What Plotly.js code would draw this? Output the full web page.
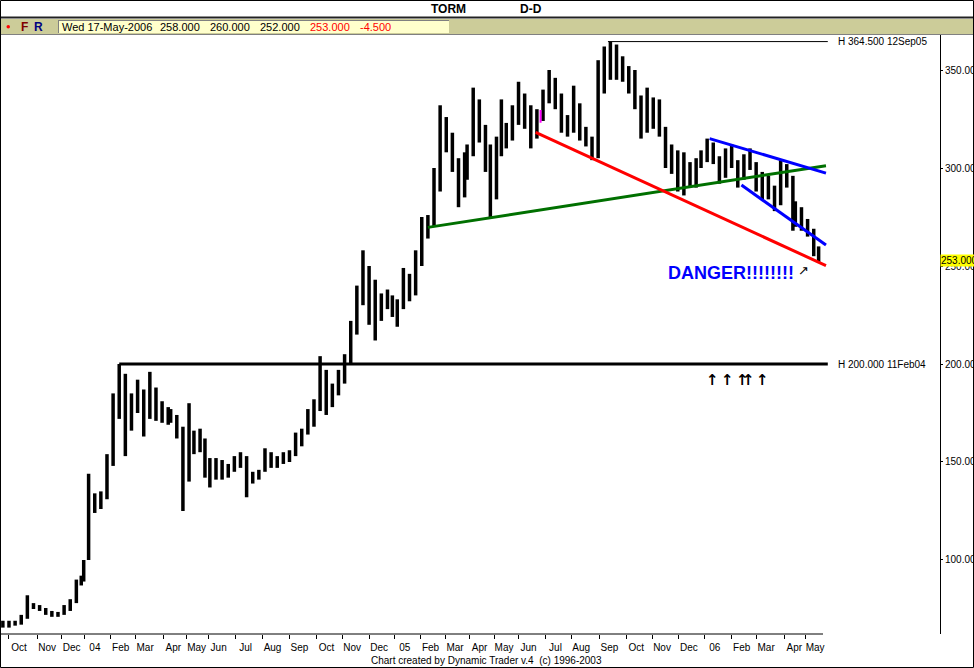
<!DOCTYPE html>
<html><head><meta charset="utf-8">
<script src="https://cdn.plot.ly/plotly-3.0.1.min.js"></script>
<style>html,body{margin:0;padding:0;background:#fff;overflow:hidden}#chart{width:974px;height:668px}</style>
</head><body><div id="chart"></div>
<script>
// ---- weekly OHLC bars (TORM, daily chart condensed to weeks) ----
const dates = [
 '2003-09-24',
 '2003-10-01','2003-10-08','2003-10-15','2003-10-22','2003-10-29',
 '2003-11-05','2003-11-12','2003-11-19','2003-11-26',
 '2003-12-03','2003-12-10','2003-12-17','2003-12-23','2003-12-30',
 '2004-01-07','2004-01-14','2004-01-21','2004-01-28',
 '2004-02-04','2004-02-11','2004-02-18','2004-02-25',
 '2004-03-03','2004-03-10','2004-03-17','2004-03-24','2004-03-31',
 '2004-04-07','2004-04-14','2004-04-21','2004-04-28',
 '2004-05-05','2004-05-12','2004-05-19','2004-05-26',
 '2004-06-02','2004-06-09','2004-06-16','2004-06-23','2004-06-30',
 '2004-07-07','2004-07-14','2004-07-21','2004-07-28',
 '2004-08-04','2004-08-11','2004-08-18','2004-08-25',
 '2004-09-01','2004-09-08','2004-09-15','2004-09-22','2004-09-29',
 '2004-10-06','2004-10-13','2004-10-20','2004-10-27',
 '2004-11-03','2004-11-10','2004-11-17','2004-11-24',
 '2004-12-01','2004-12-08','2004-12-15','2004-12-22','2004-12-29',
 '2005-01-05','2005-01-12','2005-01-19','2005-01-26',
 '2005-02-02','2005-02-09','2005-02-16','2005-02-23',
 '2005-03-02','2005-03-09','2005-03-16','2005-03-23','2005-03-30',
 '2005-04-06','2005-04-13','2005-04-20','2005-04-27',
 '2005-05-04','2005-05-11','2005-05-18','2005-05-25',
 '2005-06-01','2005-06-08','2005-06-15','2005-06-22','2005-06-29',
 '2005-07-06','2005-07-13','2005-07-20','2005-07-27',
 '2005-08-03','2005-08-10','2005-08-17','2005-08-24','2005-08-31',
 '2005-09-07','2005-09-14','2005-09-21','2005-09-28',
 '2005-10-05','2005-10-12','2005-10-19','2005-10-26',
 '2005-11-02','2005-11-09','2005-11-16','2005-11-23','2005-11-30',
 '2005-12-07','2005-12-14','2005-12-21','2005-12-28',
 '2006-01-04','2006-01-11','2006-01-18','2006-01-25',
 '2006-02-01','2006-02-08','2006-02-15','2006-02-22',
 '2006-03-01','2006-03-08','2006-03-15','2006-03-22','2006-03-29',
 '2006-04-05','2006-04-12','2006-04-19','2006-04-26',
 '2006-05-03','2006-05-10','2006-05-17'
];
const opens = [
 67,
 67,68,68,71,77,
 76,75,73,72,
 72.5,76,79,89,90,
 101,128,128,133,
 150,180,185,172,
 178,185,175,186,178,
 175,174,172,165,
 145,160,160,158,
 148,142,150,145,146,
 150,152,140,142,
 145,152,150,151,
 153,155,160,165,174,
 178,195,180,186,
 192,202,218,235,
 245,228,230,233,232,
 228,230,240,236,
 252,268,272,290,
 318,315,302,288,300,
 308,330,318,302,
 285,310,318,315,
 328,335,325,318,326,
 335,345,336,322,
 320,330,318,314,308,
 345,355,352,356,
 350,342,334,325,
 330,328,320,305,303,
 295,300,293,302,
 306,310,305,296,
 306,303,294,303,
 302,292,290,287,283,
 300,295,275,278,
 272,268,258
];
const highs = [
 69,
 69,69,72,82,78,
 77,75.5,74,73.5,
 77,80,90,92,100,
 144,134,135,154,
 185,200,195,185,
 192,187,196,188,181,
 178,177,174,168,
 180,166,167,162,
 152,152,151,149,153,
 155,153,145,146,
 157,155,153,155,
 156,165,167,177,182,
 204,197,190,197,
 205,222,240,258,
 250,243,236,238,235,
 233,249,246,258,
 275,276,300,332,
 326,318,305,308,312,
 341,335,322,312,
 316,335,323,332,
 344,338,332,330,340,
 350,346,338,327,
 342,333,321,316,355,
 362,364.5,363,357,
 352,350,337,341,
 336,335,321,312,309,
 308,303,305,309,
 315,313,306,310,
 312,304,307,310,
 303,298,296,291,304,
 302,296,283,280,
 274,269,260
];
const lows = [
 65.5,
 65.5,66.5,67,70,75,
 74,72,71,71,
 72,74,78,87,89,
 100,124,126,131,
 148,172,153,166,
 175,163,172,171,170,
 169,170,162,125,
 140,154,155,142,
 137,141,141,142,145,
 147,132,139,141,
 145,147,147,149,
 150,153,158,164,168,
 176,174,178,184,
 190,200,215,230,
 220,212,222,228,224,
 219,228,232,235,
 250,264,270,288,
 308,298,280,285,294,
 306,313,298,275,
 284,306,310,314,
 322,320,310,315,324,
 333,330,318,316,
 318,314,311,304,305,
 338,345,345,344,
 338,330,315,318,
 320,316,300,297,288,
 286,290,290,300,
 303,302,292,295,
 300,290,294,299,
 288,284,284,278,281,
 290,268,270,268,
 265,255,252
];
const closes = [
 67,
 68,68,71,77,76,
 75,73,72,72.5,
 76,79,89,90,99,
 128,128,133,150,
 180,190,172,178,
 185,175,188,178,175,
 174,173,165,145,
 160,160,158,148,
 142,150,145,146,150,
 152,140,142,145,
 152,150,151,153,
 155,160,165,174,178,
 195,180,186,192,
 200,218,235,245,
 228,230,233,232,228,
 230,240,236,252,
 268,272,290,318,
 315,302,288,300,308,
 330,318,302,285,
 310,318,315,328,
 335,325,318,326,335,
 345,336,322,320,
 330,318,314,308,345,
 355,352,356,350,
 342,334,325,330,
 328,320,305,303,295,
 300,293,302,306,
 310,305,296,306,
 303,294,303,302,
 292,290,287,283,300,
 295,275,278,272,
 268,258,253
];
// highlighted (magenta) bar
const markDate = ['2005-06-27'];
const markOpen = [323.6], markHigh = [329.6], markLow = [323.1], markClose = [329.2];

// trend lines drawn on the chart
const redX = ['2005-06-21','2006-05-26'],  redY = [318.2, 250.2];
const greenX = ['2005-02-09','2006-05-26'], greenY = [269.7, 301.2];
const blueUpX = ['2006-01-06','2006-05-26'], blueUpY = [315.0, 297.4];
const blueLoX = ['2006-02-13','2006-05-26'], blueLoY = [291.3, 260.7];
// horizontal high lines
const h200X = ['2004-02-11','2006-05-29 12:00'], h200Y = [200, 200];
const h364X = ['2005-09-12','2006-05-29 12:00'], h364Y = [364.5, 364.5];

// axis ticks
const monthTicks = ['2003-10-01','2003-11-03','2003-12-01','2004-01-02','2004-02-02','2004-03-01','2004-04-01','2004-05-03','2004-06-01','2004-07-01','2004-08-02','2004-09-01','2004-10-01','2004-11-01','2004-12-01','2005-01-03','2005-02-01','2005-03-01','2005-04-01','2005-05-02','2005-06-01','2005-07-01','2005-08-01','2005-09-01','2005-10-03','2005-11-01','2005-12-01','2006-01-02','2006-02-01','2006-03-01','2006-04-03','2006-05-01'];
const monthLabels = ['Oct','Nov','Dec','04','Feb','Mar','Apr','May','Jun','Jul','Aug','Sep','Oct','Nov','Dec','05','Feb','Mar','Apr','May','Jun','Jul','Aug','Sep','Oct','Nov','Dec','06','Feb','Mar','Apr','May'];
const yTicks = [100,150,200,250,300,350];
const yTickLabels = ['100.000','150.000','200.000','250.000','300.000','350.000'];
const holidays = ['2003-12-24','2003-12-25','2003-12-26','2003-12-31','2004-01-01','2004-04-08','2004-04-09','2004-04-12','2004-05-07','2004-05-20','2004-05-31','2004-12-24','2004-12-31','2005-03-24','2005-03-25','2005-03-28','2005-04-22','2005-05-05','2005-05-16','2005-12-26','2006-04-13','2006-04-14','2006-04-17','2006-05-12','2006-05-25','2006-06-05'];

// header / labels
const infoTexts = ['Wed 17-May-2006','258.000','260.000','252.000','253.000','-4.500'];
const lastClose = 253;

// ---- layout helpers (pixel -> paper) ----
const L=1, R=940, T=35, B=634;
const px = x => (x-L)/(R-L);
const py = y => (B-y)/(B-T);
const FONT = 'Liberation Sans, Arial, sans-serif';

const traces = [
 {type:'scatter', mode:'lines', x:h200X, y:h200Y, line:{color:'#000', width:3}, hoverinfo:'skip'},
 {type:'scatter', mode:'lines', x:h364X, y:h364Y, line:{color:'#000', width:1}, hoverinfo:'skip'},
 {type:'ohlc', x:dates, open:opens, high:highs, low:lows, close:closes,
  increasing:{line:{color:'#000', width:3.5}}, decreasing:{line:{color:'#000', width:3.5}}, tickwidth:0.5, hoverinfo:'skip'},
 {type:'ohlc', x:markDate, open:markOpen, high:markHigh, low:markLow, close:markClose,
  increasing:{line:{color:'#FF00FF', width:2}}, decreasing:{line:{color:'#FF00FF', width:2}}, tickwidth:0.35, hoverinfo:'skip'},
 {type:'scatter', mode:'lines', x:greenX, y:greenY, line:{color:'#007000', width:3}, hoverinfo:'skip'},
 {type:'scatter', mode:'lines', x:redX, y:redY, line:{color:'#FF0000', width:3}, hoverinfo:'skip'},
 {type:'scatter', mode:'lines', x:blueUpX, y:blueUpY, line:{color:'#0000FF', width:3}, hoverinfo:'skip'},
 {type:'scatter', mode:'lines', x:blueLoX, y:blueLoY, line:{color:'#0000FF', width:3}, hoverinfo:'skip'}
];

const ann = (o) => Object.assign({showarrow:false, xref:'paper', yref:'paper', xanchor:'center', yanchor:'middle',
  font:{family:FONT, size:10, color:'#000'}}, o);
const infoX = [60,158,208,258,308,358];
const annotations = [
 ann({x:px(448), y:py(9), text:'<b>TORM</b>', font:{family:FONT, size:12, color:'#000'}}),
 ann({x:px(531), y:py(9), text:'<b>D-D</b>', font:{family:FONT, size:12, color:'#000'}}),
 ann({x:px(24.5), y:py(27), text:'<b>F</b>', font:{family:FONT, size:12, color:'#800000'}}),
 ann({x:px(38), y:py(27), text:'<b>R</b>', font:{family:FONT, size:12, color:'#000080'}}),
 ann({x:px(486), y:py(660), text:'Chart created by Dynamic Trader v.4&nbsp;&nbsp;(c) 1996-2003'}),
 ann({x:px(836), xanchor:'left', yref:'y', y:364.5, text:'H 364.500 12Sep05'}),
 ann({x:px(836), xanchor:'left', yref:'y', y:200, text:'H 200.000 11Feb04'}),
 ann({x:px(940), xanchor:'left', yref:'y', y:lastClose, text:lastClose.toFixed(3), bgcolor:'#FFFF00', borderpad:0}),
 ann({x:px(666), xanchor:'left', y:py(273), text:'<b>DANGER!!!!!!!!</b>', font:{family:FONT, size:18, color:'#0000FF'}}),
 ann({x:px(803), y:py(270), text:'↗', font:{family:'DejaVu Sans', size:13, color:'#000'}}),
];
[712,727,742,748,762].forEach(x => annotations.push(ann({x:px(x), y:py(380), text:'<b>↑</b>', font:{family:'DejaVu Sans', size:15, color:'#000'}})));
infoTexts.forEach((t,i) => annotations.push(ann({x:px(infoX[i]), xanchor:'left', y:py(26.5), text:t,
  font:{family:FONT, size:11, color: i>=4 ? '#FF0000' : '#000'}})));

const shapes = [
 {type:'rect', xref:'paper', yref:'paper', x0:px(0), x1:px(974), y0:py(19), y1:py(34), fillcolor:'#CCCC99', line:{width:0}, layer:'below'},
 {type:'line', xref:'paper', yref:'paper', x0:px(0), x1:px(974), y0:py(17.5), y1:py(17.5), line:{color:'#222', width:2}},
 {type:'line', xref:'paper', yref:'paper', x0:px(0), x1:px(974), y0:py(34.5), y1:py(34.5), line:{color:'#808080', width:1}},
 {type:'rect', xref:'paper', yref:'paper', x0:px(58), x1:px(449), y0:py(20), y1:py(33), fillcolor:'#FFFFCC', line:{width:0}},
 {type:'line', xref:'paper', yref:'paper', x0:px(58), x1:px(449), y0:py(20.5), y1:py(20.5), line:{color:'#808080', width:1}},
 {type:'line', xref:'paper', yref:'paper', x0:px(58.5), x1:px(58.5), y0:py(20), y1:py(33), line:{color:'#808080', width:1}},
 {type:'circle', xref:'paper', yref:'paper', x0:px(6.5), x1:px(10), y0:py(25), y1:py(28.5), fillcolor:'#FF0000', line:{width:0}},
 {type:'line', xref:'paper', yref:'paper', x0:px(1), x1:px(823), y0:py(634), y1:py(634), line:{color:'#000', width:1}},
 {type:'rect', xref:'paper', yref:'paper', x0:px(0.5), x1:px(973.5), y0:py(667.5), y1:py(0.5), line:{color:'#000', width:1}}
];

const layout = {
 width:974, height:668, margin:{l:L, r:974-R, t:T, b:668-B, pad:0},
 paper_bgcolor:'#FFFFFF', plot_bgcolor:'#FFFFFF', showlegend:false, hovermode:false,
 font:{family:FONT, size:10, color:'#000'},
 xaxis:{type:'date', range:['2003-09-22 11:30','2006-10-05 02:24'],
  rangebreaks:[{bounds:['sat','mon']},{values:holidays}],
  rangeslider:{visible:false}, showgrid:false, zeroline:false, showline:false,
  tickmode:'array', tickvals:monthTicks, ticktext:monthLabels,
  ticks:'outside', ticklen:4, tickwidth:1, tickcolor:'#000', tickfont:{family:FONT, size:10}, ticklabelshift:10, fixedrange:true},
 yaxis:{side:'right', range:[62.24, 367.86], showgrid:false, zeroline:false, showline:true, linecolor:'#000', linewidth:1,
  tickmode:'array', tickvals:yTicks, ticktext:yTickLabels, ticks:'outside', ticklen:2, tickcolor:'#000',
  tickfont:{family:FONT, size:10}, fixedrange:true},
 shapes:shapes, annotations:annotations
};
Plotly.newPlot('chart', traces, layout, {displayModeBar:false, staticPlot:true});
</script></body></html>
